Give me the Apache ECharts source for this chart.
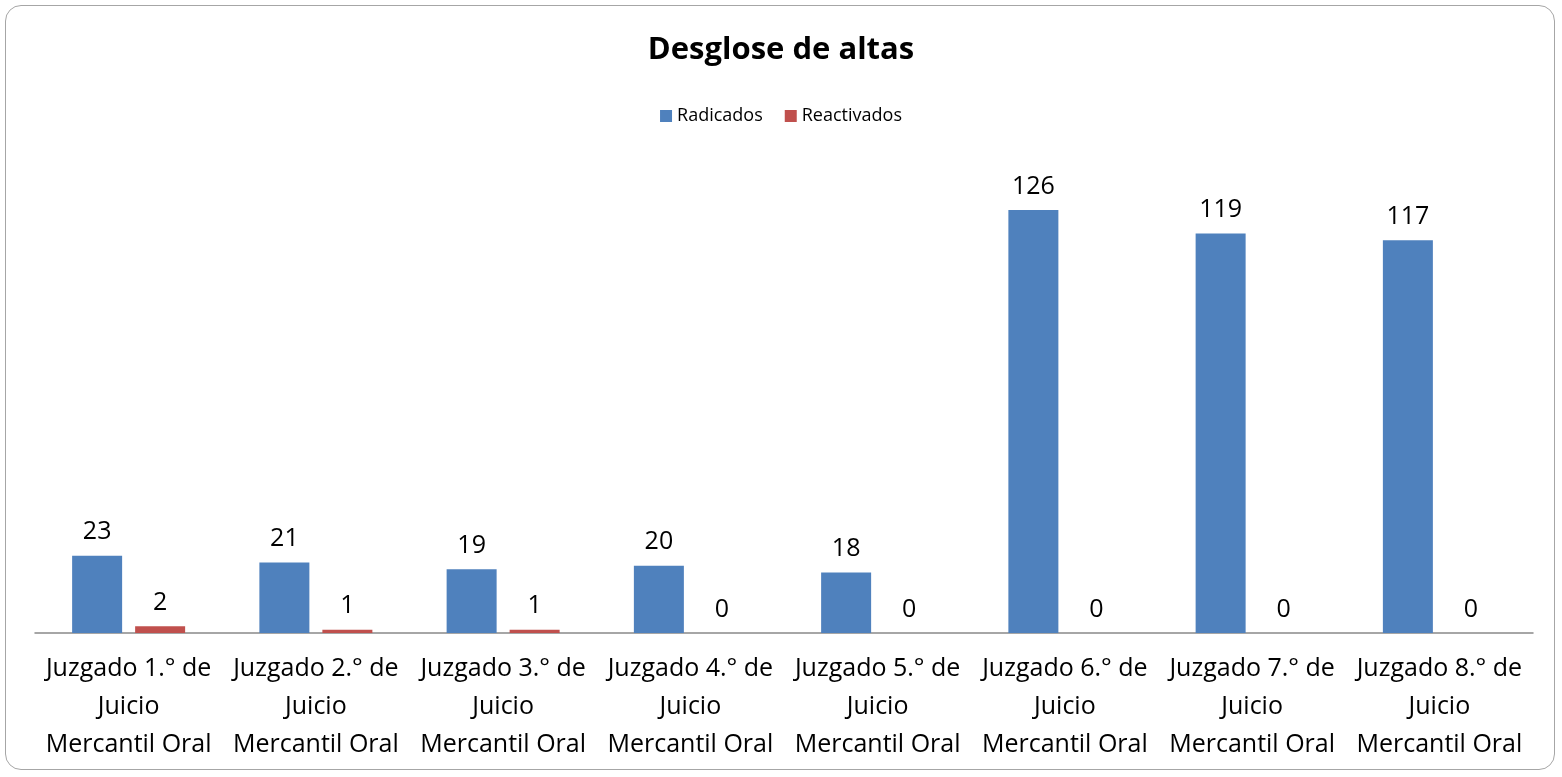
<!DOCTYPE html>
<html><head><meta charset="utf-8">
<script src="https://cdn.jsdelivr.net/npm/echarts@6/dist/echarts.min.js"></script>
<style>
html,body{margin:0;padding:0;background:#fff;}
#frame{position:absolute;left:5px;top:5px;width:1550px;height:765px;border:1.5px solid #a6a6a6;border-radius:16px;box-sizing:border-box;}
#c{position:absolute;left:0;top:0;width:1562px;height:777px;}
</style></head>
<body>
<div id="frame"></div>
<div id="c"></div>
<script>
const categories = [
  "Juzgado 1.° de\nJuicio\nMercantil Oral",
  "Juzgado 2.° de\nJuicio\nMercantil Oral",
  "Juzgado 3.° de\nJuicio\nMercantil Oral",
  "Juzgado 4.° de\nJuicio\nMercantil Oral",
  "Juzgado 5.° de\nJuicio\nMercantil Oral",
  "Juzgado 6.° de\nJuicio\nMercantil Oral",
  "Juzgado 7.° de\nJuicio\nMercantil Oral",
  "Juzgado 8.° de\nJuicio\nMercantil Oral"
];
const radicados = [23, 21, 19, 20, 18, 126, 119, 117];
const reactivados = [2, 1, 1, 0, 0, 0, 0, 0];

const font = "'Open Sans', sans-serif";
const chart = echarts.init(document.getElementById('c'));
const labelCfg = {show:true, position:'top', distance:11, color:'#000', fontSize:25, fontFamily:font};
chart.setOption({
  animation:false,
  title:{text:'Desglose de altas', left:'center', top:30,
    textStyle:{fontSize:31, fontWeight:'bold', color:'#000', fontFamily:font}},
  legend:{top:102, left:'center', itemWidth:12, itemHeight:12, itemGap:22, icon:'rect',
    textStyle:{fontSize:18, color:'#000', fontFamily:font},
    data:['Radicados','Reactivados']},
  grid:{left:35, right:29, top:163, bottom:144, containLabel:false},
  xAxis:{type:'category', data:categories,
    axisLine:{lineStyle:{color:'#898989', width:1.5}},
    axisTick:{show:false},
    axisLabel:{interval:0, fontSize:25, lineHeight:38, color:'#000', fontFamily:font, margin:17}},
  yAxis:{type:'value', min:0, max:140, show:false, splitLine:{show:false}},
  series:[
    {name:'Radicados', type:'bar', data:radicados, barWidth:50, barGap:'26%',
      itemStyle:{color:'#4F81BD'}, label:labelCfg},
    {name:'Reactivados', type:'bar', data:reactivados, barWidth:50,
      itemStyle:{color:'#C0504D'}, label:labelCfg}
  ]
});
</script>
</body></html>
